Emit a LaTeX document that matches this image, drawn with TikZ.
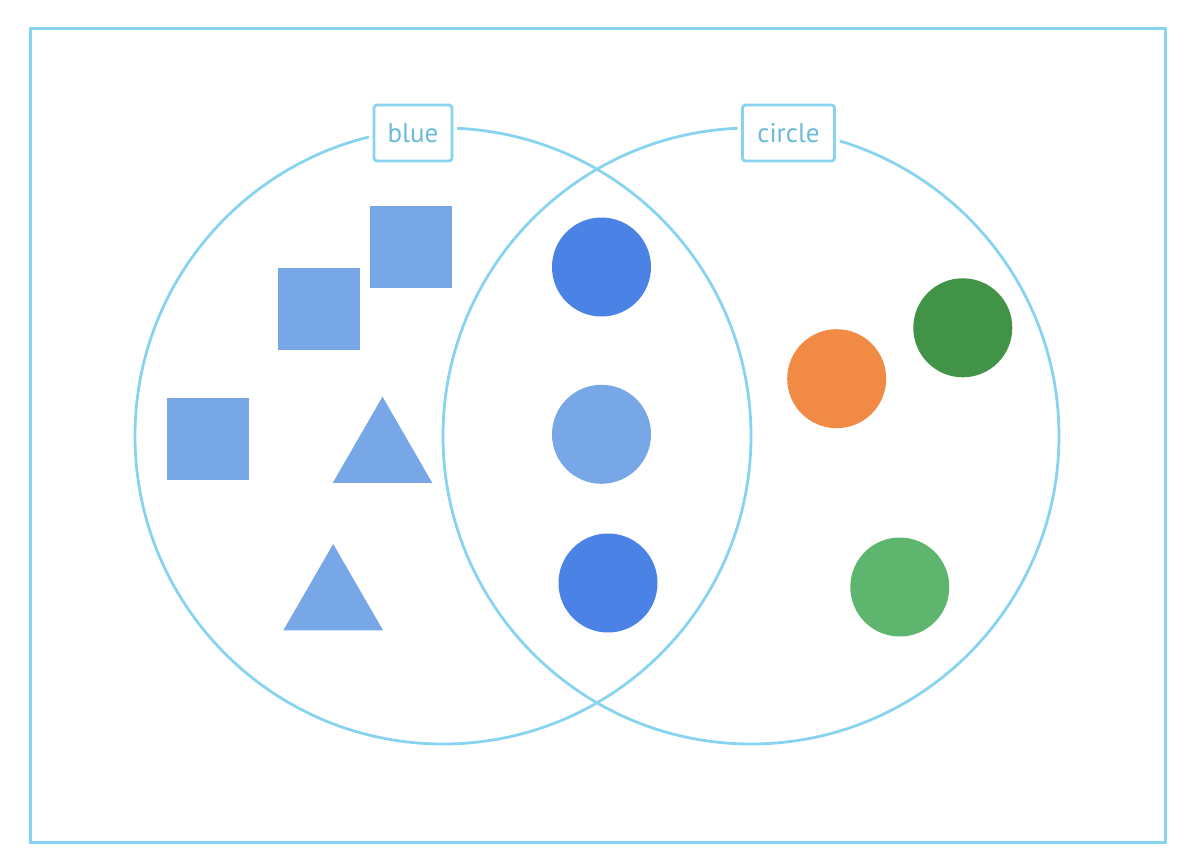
\documentclass[tikz,border=0pt]{standalone}
\usepackage{fontspec}
\newfontfamily\labelfont{PT Sans}
\usetikzlibrary{shapes.geometric}
\definecolor{lineblue}{HTML}{88D4F0}
\definecolor{textblue}{HTML}{6BBAD8}
\definecolor{sqblue}{HTML}{78A7E7}
\definecolor{darkblue}{HTML}{4A82E6}
\definecolor{orangec}{HTML}{F08A45}
\definecolor{darkgreen}{HTML}{419347}
\definecolor{lightgreen}{HTML}{5DB56E}
\tikzset{
  setcircle/.style={circle, draw=lineblue, line width=2.8pt, minimum size=616pt, inner sep=0pt},
  setlabel/.style={draw=lineblue, line width=2.8pt, rounded corners=3pt, fill=white,
    preaction={draw=white, line width=10pt}, text=textblue, inner sep=0pt,
    minimum height=56pt, font=\labelfont\fontsize{27}{32}\selectfont},
  sq/.style={rectangle, fill=sqblue, minimum size=82pt, inner sep=0pt},
  tri/.style={regular polygon, regular polygon sides=3, fill=sqblue, minimum size=115pt, inner sep=0pt},
  dot/.style={circle, minimum size=99pt, inner sep=0pt},
}
\begin{document}
\begin{tikzpicture}[x=1pt,y=-1pt]
\useasboundingbox (0,0) rectangle (1194,864);
\draw[lineblue, line width=3pt] (30,29) rectangle (1165,842);
\node[setcircle] (blueset) at (443,436) {};
\node[setcircle] (circleset) at (751,436) {};
\node[setlabel, minimum width=78pt] (bluelabel) at (413,133) {blue};
\node[setlabel, minimum width=92pt] (circlelabel) at (788.5,133) {circle};
\node[sq] (sq1) at (411,246.5) {};
\node[sq] (sq2) at (319.3,309) {};
\node[sq] (sq3) at (208.3,438.5) {};
\node[tri] (tri1) at (382.5,454.2) {};
\node[tri] (tri2) at (333.2,601.5) {};
\node[dot, fill=darkblue] (c1) at (601.5,267) {};
\node[dot, fill=sqblue] (c2) at (601.5,434.3) {};
\node[dot, fill=darkblue] (c3) at (608,583) {};
\node[dot, fill=orangec] (c4) at (836.7,378.7) {};
\node[dot, fill=darkgreen] (c5) at (962.8,327.8) {};
\node[dot, fill=lightgreen] (c6) at (899.8,587) {};
\end{tikzpicture}
\end{document}
